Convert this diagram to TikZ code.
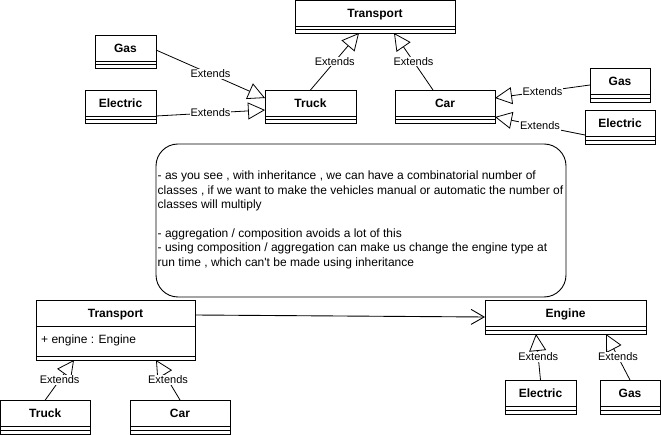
\documentclass[tikz,border=0pt]{standalone}
\usepackage{fontspec}
\setmainfont{Liberation Sans}
\usetikzlibrary{arrows.meta,calc}

\tikzset{
  clsbox/.style={draw, line width=0.9pt, inner sep=0pt, outer sep=0pt, anchor=north west},
  clstitle/.style={font=\bfseries\fontsize{12}{14}\selectfont, inner sep=0pt, anchor=base},
  sepline/.style={line width=0.9pt},
  ext/.style={draw, line width=0.8pt, -{Triangle[open, length=17pt, width=17pt]}},
  extlbl/.style={font=\fontsize{11}{13}\selectfont, fill=white, inner sep=0.8pt, pos=0.5},
  assoc/.style={draw, line width=0.9pt, -{Straight Barb[length=13pt, width=15pt]}},
  notebox/.style={draw, line width=0.9pt, rounded corners=22pt, inner sep=0pt, outer sep=0pt, anchor=north west},
  notetxt/.style={font=\fontsize{12}{14.4}\selectfont, align=left, inner sep=0pt, anchor=west},
  attrtxt/.style={font=\fontsize{12}{14}\selectfont, inner sep=0pt, anchor=base west},
}

% name, x1, y1, x2, y2, title
\newcommand\umlcls[6]{%
  \node[clsbox, minimum width={(#4-#2)*1pt}, minimum height={(#5-#3)*1pt}] (#1) at (#2,#3) {};
  \node[clstitle] (#1-t) at ({(#2+#4)/2},{#3+17.5}) {#6};
  \draw[sepline] ($(#1.north west)+(0,26)$) -- ($(#1.north east)+(0,26)$);
  \draw[sepline] ($(#1.south west)+(0,-4)$) -- ($(#1.south east)+(0,-4)$);
}

\begin{document}
\begin{tikzpicture}[x=1pt, y=-1pt]
\useasboundingbox (0,0) rectangle (661,435);

% top diagram
\umlcls{tT}{295}{0.5}{455}{33}{Transport}
\umlcls{gL}{95}{35}{156}{68}{Gas}
\umlcls{eL}{85}{90}{156}{123}{Electric}
\umlcls{trk}{265}{90}{356}{123}{Truck}
\umlcls{car}{395}{90}{495}{123}{Car}
\umlcls{gR}{590}{68}{650}{102}{Gas}
\umlcls{eR}{585}{110}{655}{144}{Electric}

\draw[ext] ($(gL.north east)+(0,15)$) -- ($(trk.north west)+(0,8)$) node[extlbl] (l1) {Extends};
\draw[ext] ($(eL.south east)+(0,-7)$) -- ($(trk.north west)+(0,20)$) node[extlbl] (l2) {Extends};
\draw[ext] (trk.north) -- ($(tT.south)+(-16,0)$) node[extlbl] (l3) {Extends};
\draw[ext] ($(car.north)+(-12,0)$) -- ($(tT.south)+(19,0)$) node[extlbl] (l4) {Extends};
\draw[ext] (gR.west) -- ($(car.north east)+(0,8)$) node[extlbl] (l5) {Extends};
\draw[ext] ($(eR.north west)+(0,25)$) -- ($(car.north east)+(0,27)$) node[extlbl] (l6) {Extends};

% note
\node[notebox, minimum width=410pt, minimum height=153pt] (note) at (156,144) {};
\node[notetxt] (notet) at (157.5,220) {- as you see , with inheritance , we can have a combinatorial number of\\
classes , if we want to make the vehicles manual or automatic the number of\\
classes will multiply\\[14.4pt]
- aggregation / composition avoids a lot of this\\
- using composition / aggregation can make us change the engine type at\\
run time , which can\textquotesingle t be made using inheritance};

% bottom diagram
\node[clsbox, minimum width=159pt, minimum height=60pt] (bT) at (36,300) {};
\node[clstitle] (bT-t) at (115.5,317.5) {Transport};
\draw[sepline] ($(bT.north west)+(0,26)$) -- ($(bT.north east)+(0,26)$);
\draw[sepline] ($(bT.south west)+(0,-4)$) -- ($(bT.south east)+(0,-4)$);
\node[attrtxt] (bT-a) at (41,344) {+ engine : Engine};

\umlcls{bTrk}{0.5}{400}{90}{434}{Truck}
\umlcls{bCar}{130}{400}{230}{434}{Car}
\umlcls{eng}{485}{300}{646}{334}{Engine}
\umlcls{bE}{505}{380}{576}{414}{Electric}
\umlcls{bG}{600}{380}{660}{414}{Gas}

\draw[ext] (bTrk.north) -- ($(bT.south west)+(38,0)$) node[extlbl] (l7) {Extends};
\draw[ext] (bCar.north) -- ($(bT.south west)+(120,0)$) node[extlbl] (l8) {Extends};
\draw[assoc] ($(bT.north east)+(0,15)$) -- ($(eng.north west)+(0,17)$);
\draw[ext] (bE.north) -- ($(eng.south west)+(51,0)$) node[extlbl] (l9) {Extends};
\draw[ext] (bG.north) -- ($(eng.south west)+(121,0)$) node[extlbl] (l10) {Extends};
\end{tikzpicture}
\end{document}
